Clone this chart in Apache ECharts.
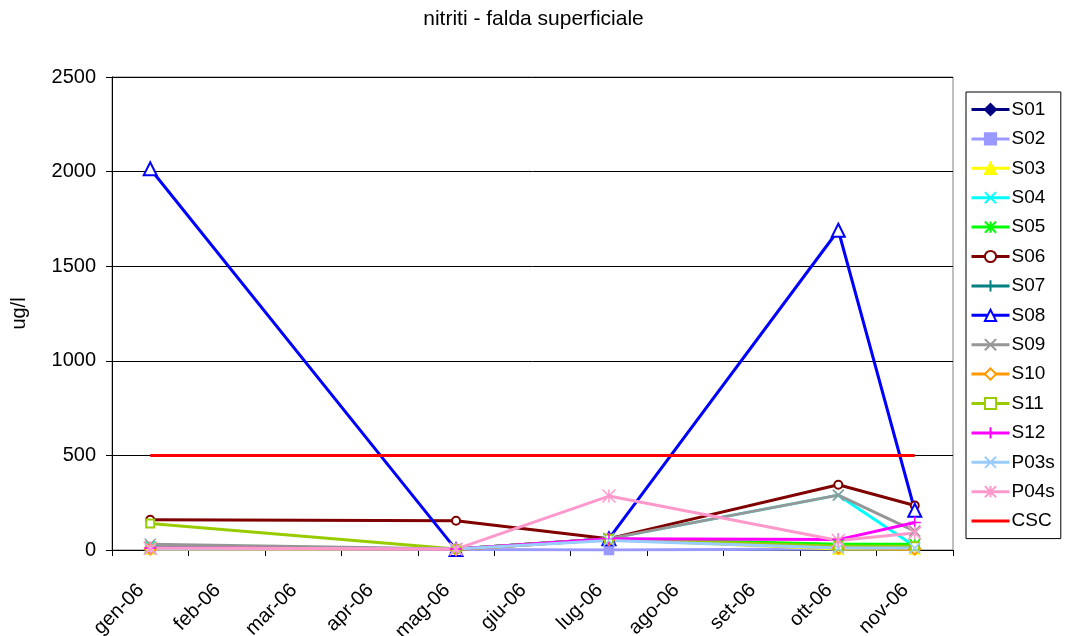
<!DOCTYPE html>
<html>
<head>
<meta charset="utf-8">
<script src="https://cdn.jsdelivr.net/npm/echarts@6/dist/echarts.min.js"></script>
<style>html,body{margin:0;padding:0;background:#fff}#c{width:1067px;height:636px}</style>
</head>
<body>
<div id="c"></div>
<script>
const categories = ['gen-06','feb-06','mar-06','apr-06','mag-06','giu-06','lug-06','ago-06','set-06','ott-06','nov-06'];
const yTicks = [0, 500, 1000, 1500, 2000, 2500];
// values at gen, mag, lug, ott, nov (other months: no sample)
const S01  = [5, 2, 55, 10, 10];
const S02  = [5, 2, 0, 5, 5];
const S03  = [5, 2, 55, 5, 5];
const S04  = [20, 5, 60, 290, 20];
const S05  = [15, 5, 60, 30, 30];
const S06  = [160, 155, 60, 345, 235];
const S07  = [10, 5, 60, 15, 15];
const S08  = [2015, 2, 60, 1690, 210];
const S09  = [30, 5, 60, 290, 100];
const S10  = [5, 2, 55, 10, 5];
const S11  = [140, 5, 60, 20, 20];
const S12  = [10, 5, 60, 55, 145];
const P03s = [5, 5, 50, 10, 10];
const P04s = [10, 5, 285, 50, 90];
const CSC  = [500, 500, 500, 500, 500];
const sampleMonths = ['gen-06','mag-06','lug-06','ott-06','nov-06'];

function expand(vals){
  return categories.map(c => { const i = sampleMonths.indexOf(c); return i < 0 ? null : vals[i]; });
}
const X = 'path://M0,0L10,10M10,0L0,10';
const PLUS = 'path://M5,0L5,10M0,5L10,5';
const STAR = 'path://M0,0L10,10M10,0L0,10M5,0L5,10';

const defs = [
  ['S01', S01, '#000080', 'diamond', 9],
  ['S02', S02, '#9999FF', 'rect', 9],
  ['S03', S03, '#FFFF00', 'triangle', 10],
  ['S04', S04, '#00FFFF', X, 10],
  ['S05', S05, '#00FF00', STAR, 11],
  ['S06', S06, '#800000', 'emptyCircle', 8],
  ['S07', S07, '#008080', PLUS, 11],
  ['S08', S08, '#0000FF', 'emptyTriangle', 13],
  ['S09', S09, '#969696', X, 11],
  ['S10', S10, '#FF9900', 'emptyDiamond', 11],
  ['S11', S11, '#99CC00', 'emptyRect', 8],
  ['S12', S12, '#FF00FF', PLUS, 12],
  ['P03s', P03s, '#99CCFF', X, 11],
  ['P04s', P04s, '#FF99CC', STAR, 13]
];

const series = defs.map(([name, vals, color, sym, size]) => ({
  name, type: 'line', data: expand(vals), connectNulls: true,
  symbol: sym, symbolSize: size, showSymbol: true,
  lineStyle: { color, width: 3 },
  itemStyle: { color, borderColor: color, borderWidth: 1.5 },
  emphasis: { disabled: true }, z: 2
}));
series.push({
  name: 'CSC', type: 'line', data: expand(CSC), connectNulls: true,
  symbol: 'none', lineStyle: { color: '#FF0000', width: 3 }, itemStyle: { color: '#FF0000' }, z: 3
});

const legendData = series.map(s => s.name === 'CSC'
  ? { name: 'CSC', itemStyle: { opacity: 0, borderWidth: 0 } }
  : { name: s.name });

const chart = echarts.init(document.getElementById('c'));
chart.setOption({
  animation: false,
  backgroundColor: '#fff',
  textStyle: { fontFamily: 'Liberation Sans, Arial, sans-serif' },
  title: { text: 'nitriti - falda superficiale', left: 'center', top: 4,
    textStyle: { fontSize: 21, fontWeight: 'normal', color: '#000', fontFamily: 'Liberation Sans' } },
  grid: { left: 112, right: 114, top: 77, bottom: 86, show: true, borderColor: '#808080', borderWidth: 1,
    containLabel: false, outerBoundsMode: 'none' },
  legend: {
    orient: 'vertical', left: 966, top: 92, width: 96,
    borderColor: '#000', borderWidth: 1, padding: [8, 6, 8, 4],
    itemWidth: 38, itemHeight: 14, itemGap: 10.4,
    lineStyle: { width: 3 },
    textStyle: { fontSize: 19, color: '#000', fontFamily: 'Liberation Sans', padding: [0,0,0,-3] },
    data: legendData
  },
  xAxis: {
    type: 'category', data: categories, boundaryGap: true,
    axisLine: { lineStyle: { color: '#000', width: 1 } },
    axisTick: { show: true, length: 6, lineStyle: { color: '#000' }, alignWithLabel: false },
    axisLabel: { rotate: 45, margin: 28, fontSize: 20, color: '#000', fontFamily: 'Liberation Sans', padding: [0, 13, 0, 0], interval: 0 },
    splitLine: { show: false }
  },
  yAxis: {
    type: 'value', min: yTicks[0], max: yTicks[yTicks.length - 1], interval: 500,
    name: 'ug/l', nameLocation: 'middle', nameGap: 83, nameRotate: 90,
    nameTextStyle: { fontSize: 20, color: '#000', fontFamily: 'Liberation Sans' },
    axisLine: { show: true, lineStyle: { color: '#000' } },
    axisTick: { show: true, length: 6, lineStyle: { color: '#000' } },
    axisLabel: { fontSize: 20, color: '#000', margin: 16, fontFamily: 'Liberation Sans', formatter: v => String(v) },
    splitLine: { show: true, lineStyle: { color: '#000', width: 1 } }
  },
  series
});
</script>
</body>
</html>
